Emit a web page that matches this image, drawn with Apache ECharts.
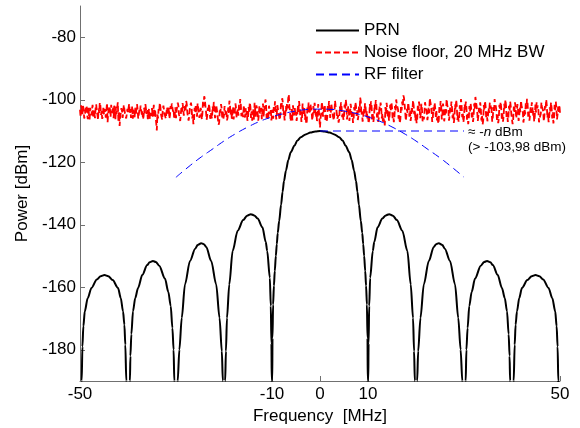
<!DOCTYPE html>
<html><head><meta charset="utf-8">
<script src="https://cdn.jsdelivr.net/npm/echarts@6/dist/echarts.min.js"></script>
<style>html,body{margin:0;padding:0;background:#fff}#c{width:580px;height:428px}</style>
</head><body><div id="c"></div>
<script>
// ---- PRN spectrum (MHz, dBm); nulls go below the axis ----
const prnFreq = [
 -50,-49.65,-49.5,-49.3,-49,-48.4,-47.6,-46.5,-45.7,-44.9,-44.1,-43.2,-42.08,-41.5,-41.04,-40.75,-40.56,-40.35,
 -40,-39.6,-39.5,-39.3,-38.96,-38.5,-37.9,-37,-36,-35.5,-34.8,-34.2,-33.5,-32.3,-31.6,-31.1,-30.75,-30.5,-30.35,
 -30,-29.65,-29.3,-28.8,-28.13,-27.08,-26,-25.5,-24.75,-24.2,-23.7,-22.67,-21.63,-20.93,-20.45,-20.24,
 -20,-19.76,-19.6,-19.38,-18.9,-18.2,-17.15,-16,-15.2,-14.4,-13.7,-13,-12,-11.3,-11,-10.45,-10.25,-10.12,-10.05,
 -10,-9.95,-9.9,-9.77,-9.6,-9.42,-9.2,-9,-8.8,-8.5,-8.1,-7.8,-7.5,-7.1,-6.6,-6.1,-5.3,-4.7,-4,-3,-2,-1,
 0,
 1,2,3,4,4.7,5.3,6.1,6.6,7.1,7.5,7.8,8.1,8.5,8.8,9,9.2,9.42,9.6,9.77,9.9,9.95,10,
 10.05,10.12,10.25,10.45,11,11.3,12,13,13.7,14.4,15.2,16,17.15,18.2,18.9,19.38,19.6,19.76,20,
 20.24,20.45,20.93,21.63,22.67,23.7,24.2,24.75,25.5,26,27.08,28.13,28.8,29.3,29.65,30,
 30.35,30.5,30.75,31.1,31.6,32.3,33.5,34.2,34.8,35.5,36,37,37.9,38.5,38.96,39.3,39.5,39.6,40,
 40.35,40.56,40.75,41.04,41.5,42.08,43.2,44.1,44.9,45.7,46.5,47.6,48.4,49,49.3,49.5,49.65,50
];
const prnPower = [
 -260,-190,-179,-172.5,-167.7,-163.5,-160.2,-157.5,-156.45,-156.1,-156.45,-157.7,-160.2,-163.5,-167.7,-172,-178.4,-190,
 -260,-190,-182,-175,-167.7,-163.5,-160.2,-156,-152.9,-152,-151.6,-151.9,-153.1,-157.2,-161.5,-166,-173,-180,-190,
 -260,-190,-180,-169.8,-159.1,-151.6,-147.65,-146.5,-145.9,-146.2,-147.1,-151.6,-159.1,-169.8,-180.5,-190,
 -260,-190,-180.5,-169.8,-159.1,-148.4,-141.9,-138.5,-137.1,-136.6,-137,-138,-140.8,-145.5,-148.4,-157,-166,-178,-190,
 -260,-190,-176.3,-165.5,-159.5,-154.8,-150,-146.2,-142.6,-138.7,-133.5,-129.5,-126,-122.7,-119.3,-116.8,-114.6,-113,-112,-111.1,-110.5,-110.15,
 -110,
 -110.15,-110.5,-111.1,-112,-113,-114.6,-116.8,-119.3,-122.7,-126,-129.5,-133.5,-138.7,-142.6,-146.2,-150,-154.8,-159.5,-165.5,-176.3,-190,-260,
 -190,-178,-166,-157,-148.4,-145.5,-140.8,-138,-137,-136.6,-137.1,-138.5,-141.9,-148.4,-159.1,-169.8,-180.5,-190,-260,
 -190,-180.5,-169.8,-159.1,-151.6,-147.1,-146.2,-145.9,-146.5,-147.65,-151.6,-159.1,-169.8,-180,-190,-260,
 -190,-180,-173,-166,-161.5,-157.2,-153.1,-151.9,-151.6,-152,-152.9,-156,-160.2,-163.5,-167.7,-175,-182,-190,-260,
 -190,-178.4,-172,-167.7,-163.5,-160.2,-157.7,-156.45,-156.1,-156.45,-157.5,-160.2,-163.5,-167.7,-172.5,-179,-190,-260
];

// ---- Noise floor, sampled every 0.125 MHz from -50 MHz ----
const noiseStartFreq = -50;
const noiseStepFreq = 0.125;
const noisePower = [
 -103.2,-105.6,-101.8,-103.1,-104.6,-102.0,-102.9,-106.0,-105.1,-103.4,-103.7,-101.9,-104.9,-106.2,-102.4,-104.8,-106.3,-102.6,-104.1,-105.0,-103.0,-101.6,-105.8,-103.5,-104.4,-105.9,-102.7,-101.5,-103.9,-104.7,-106.5,-102.8,-104.2,-100.9,-101.9,-104.9,-103.6,-106.1,-105.3,-102.2,
 -104.8,-103.0,-102.5,-105.7,-103.4,-101.1,-107.2,-104.3,-104.0,-102.1,-103.1,-105.5,-101.6,-104.2,-104.7,-102.3,-105.9,-101.9,-103.3,-106.2,-102.2,-104.6,-104.5,-100.8,-106.8,-104.0,-108.4,-105.6,-105.0,-102.7,-103.6,-105.8,-104.3,-101.7,-102.0,-104.4,-103.8,-106.0,-105.4,-102.9,
 -104.1,-102.5,-101.3,-104.6,-103.0,-105.8,-104.9,-101.9,-106.1,-103.2,-103.5,-105.6,-102.6,-104.8,-104.4,-101.4,-103.1,-106.0,-105.6,-103.3,-104.0,-101.9,-102.1,-104.8,-103.7,-106.3,-105.2,-102.6,-104.6,-101.4,-101.8,-104.5,-103.3,-106.2,-104.8,-102.9,-106.4,-103.7,-103.9,-105.1,
 -102.7,-105.4,-104.3,-101.6,-105.7,-103.0,-103.2,-107.4,-109.8,-104.6,-106.0,-103.0,-103.8,-101.0,-102.3,-104.7,-104.5,-106.4,-103.0,-101.9,-101.7,-104.6,-104.2,-106.0,-105.5,-102.4,-103.6,-104.9,-102.5,-106.1,-104.9,-102.0,-103.4,-101.2,-100.9,-103.8,-103.1,-106.2,-104.7,-102.4,
 -105.9,-103.4,-103.5,-100.9,-102.0,-104.7,-104.1,-106.8,-106.2,-102.5,-103.8,-101.1,-102.9,-105.1,-104.6,-102.0,-103.3,-100.4,-101.5,-104.3,-104.0,-106.7,-105.3,-102.8,-103.1,-100.9,-102.4,-106.0,-104.8,-107.8,-106.7,-102.6,-104.2,-101.5,-103.0,-105.4,-101.2,-102.7,-103.9,-105.8,
 -105.0,-102.6,-103.4,-106.3,-104.5,-100.5,-102.1,-98.9,-99.6,-102.0,-103.7,-106.4,-105.2,-102.6,-104.0,-101.3,-102.8,-106.1,-104.3,-105.2,-106.0,-102.1,-103.6,-100.7,-102.2,-105.9,-104.7,-101.7,-103.0,-104.8,-105.4,-108.0,-107.3,-102.9,-104.1,-101.4,-102.6,-105.7,-103.8,-106.0,
 -104.9,-102.0,-102.3,-104.8,-103.5,-106.6,-105.7,-102.5,-104.2,-100.3,-101.9,-104.8,-103.1,-106.1,-104.6,-102.3,-106.3,-104.7,-103.9,-101.2,-102.5,-105.8,-104.0,-103.0,-105.1,-101.6,-103.3,-99.8,-101.4,-105.3,-103.8,-104.2,-105.5,-101.7,-104.3,-105.7,-102.7,-104.9,-103.6,-106.7,
 -105.8,-102.3,-104.0,-100.9,-102.2,-105.8,-103.7,-106.7,-104.9,-103.1,-106.4,-101.0,-103.2,-105.4,-101.8,-102.7,-103.9,-106.7,-105.0,-101.9,-104.4,-104.8,-102.6,-106.2,-103.5,-101.2,-105.6,-102.1,-103.0,-99.9,-101.1,-105.8,-104.2,-106.4,-105.3,-101.9,-103.4,-104.6,-102.9,-106.6,
 -104.5,-103.2,-106.1,-101.9,-103.6,-100.5,-102.0,-106.3,-104.3,-101.7,-103.1,-104.6,-105.2,-106.5,-104.7,-101.0,-102.4,-99.5,-100.8,-104.9,-103.7,-106.6,-105.4,-102.1,-104.0,-101.1,-102.8,-99.6,-98.3,-102.4,-103.5,-106.9,-105.0,-103.0,-106.6,-101.8,-104.1,-105.0,-102.7,-104.9,
 -103.9,-106.8,-105.3,-101.9,-104.2,-100.4,-102.1,-105.0,-103.4,-107.1,-105.7,-101.2,-103.8,-104.9,-102.5,-106.4,-104.6,-107.8,-106.9,-102.1,-104.0,-100.9,-102.9,-104.5,-101.3,-102.8,-103.6,-106.6,-105.1,-102.0,-104.3,-101.0,-102.6,-105.6,-103.9,-106.8,-105.5,-101.4,-103.2,-105.9,
 -108.9,-105.8,-104.4,-100.7,-102.3,-105.4,-103.7,-102.8,-101.6,-106.5,-104.8,-107.0,-105.9,-101.6,-103.5,-100.4,-102.2,-105.8,-104.1,-101.4,-103.0,-104.7,-105.6,-106.6,-104.5,-100.3,-101.9,-102.7,-103.3,-106.1,-104.9,-107.3,-106.2,-102.2,-103.7,-100.8,-102.4,-105.6,-104.0,-106.4,
 -105.3,-101.5,-103.1,-100.0,-101.7,-106.3,-104.5,-102.1,-103.6,-106.8,-105.0,-101.3,-102.8,-105.9,-104.2,-107.4,-106.5,-102.3,-103.9,-100.8,-102.0,-105.2,-103.4,-106.5,-105.2,-102.1,-104.0,-99.3,-100.6,-104.9,-103.8,-107.0,-105.7,-102.8,-104.4,-101.1,-102.5,-105.3,-103.6,-106.0,
 -104.9,-107.6,-106.3,-101.4,-103.2,-100.5,-102.1,-106.3,-104.6,-107.1,-105.4,-101.5,-103.0,-100.1,-101.8,-105.7,-104.0,-107.1,-105.8,-102.0,-103.5,-100.9,-102.7,-106.0,-104.3,-107.5,-106.0,-106.6,-108.2,-102.3,-104.5,-101.0,-102.9,-105.8,-103.7,-106.7,-105.1,-101.6,-103.3,-100.8,
 -102.4,-106.0,-104.1,-107.2,-105.6,-102.0,-103.8,-99.9,-101.5,-101.6,-103.0,-106.1,-104.7,-107.5,-106.1,-102.0,-103.4,-100.6,-102.2,-98.6,-99.4,-101.5,-103.9,-106.7,-105.0,-102.9,-104.2,-100.9,-102.6,-105.4,-103.5,-106.8,-105.3,-102.2,-104.0,-100.2,-101.7,-104.6,-103.2,-106.7,
 -104.8,-107.5,-106.2,-101.9,-103.6,-100.6,-102.3,-105.9,-104.4,-101.3,-103.1,-106.9,-105.5,-106.3,-104.7,-100.8,-102.0,-102.2,-103.8,-106.5,-105.1,-102.6,-104.3,-99.5,-100.9,-101.8,-103.4,-107.1,-105.9,-102.4,-104.1,-100.9,-102.7,-105.5,-103.6,-106.6,-104.9,-107.7,-106.4,-102.0,
 -103.7,-100.4,-102.2,-106.3,-104.6,-101.2,-103.0,-106.9,-105.2,-103.0,-104.4,-99.8,-101.6,-101.9,-103.5,-106.7,-105.0,-102.2,-103.9,-100.6,-102.5,-105.9,-104.2,-107.4,-106.0,-101.5,-103.3,-100.0,-102.1,-106.5,-104.7,-107.0,-105.4,-101.8,-103.6,-99.8,-101.9,-105.6,-104.1,-107.2,
 -105.6,-101.4,-103.2,-100.6,-102.4,-106.4,-104.5,-107.8,-106.3,-102.0,-103.8,-101.1,-102.9,-105.7,-104.0,-107.1,-105.3,-101.2,-103.1,-99.1,-100.7,-102.0,-103.7,-106.8,-105.0,-102.6,-104.3,-100.8,-102.6,-106.6,-104.9,-108.0,-106.6,-101.7,-103.5,-100.4,-102.2,-105.8,-103.9,-106.9,
 -105.1,-102.6,-104.2,-100.9,-102.8,-101.6,-103.4,-107.0,-105.7,-102.3,-104.0,-99.8,-101.4,-102.1,-103.6,-106.5,-104.8,-107.5,-106.0,-101.6,-103.3,-100.7,-102.5,-106.1,-104.4,-107.0,-105.2,-101.3,-103.0,-100.0,-101.8,-105.9,-104.1,-107.1,-105.5,-101.9,-103.7,-100.6,-102.3,-104.8,
 -104.6,-107.8,-106.2,-102.2,-103.9,-100.8,-102.6,-105.9,-104.3,-101.4,-103.1,-106.8,-105.4,-102.3,-104.0,-100.3,-102.1,-101.7,-103.5,-107.3,-105.8,-102.9,-104.7,-100.9,-102.9,-99.7,-101.3,-105.4,-103.8,-106.7,-105.0,-102.4,-104.2,-100.8,-102.4,-105.2,-103.6,-107.0,-105.3,-101.5,
 -104.1,-100.8,-102.7,-101.9,-103.4,-107.2,-105.9,-106.1,-104.5,-100.9,-102.2,-101.8,-103.7,-106.9,-105.1,-102.0,-103.0,-99.9,-101.9,-105.8,-104.3,-107.2,-105.6,-102.4,-103.8,-100.9,-102.5,-106.0,-104.0,-107.6,-106.1,-101.6,-103.3,-100.6,-102.8,-106.3,-104.6,-102.2,-103.9,-101.7,
 -104.2
];

// ---- RF filter response ----
const filterFreq = [-30,-27.5,-25,-22.5,-20,-17.5,-15,-12.5,-10,-7.5,-5,-2.5,0,2.5,5,7.5,10,12.5,15,17.5,20,22.5,25,27.5,30];
const filterPower = [-124.8,-121.6,-118.6,-115.9,-113.2,-110.8,-108.7,-106.9,-105.5,-104.4,-103.6,-103.1,-103.0,-103.1,-103.6,-104.4,-105.5,-106.9,-108.7,-110.8,-113.2,-115.9,-118.6,-121.6,-124.8];

// ---- PRN peak level marker ----
const levelFreq = [0, 30];
const levelPower = [-110, -110];

// ---- Axis ticks ----
const xTicks = [-50, -10, 0, 10, 50];
const yTicks = [-180, -160, -140, -120, -100, -80];

const seriesNames = ['PRN', 'Noise floor, 20 MHz BW', 'RF filter'];
const FONT = '"Liberation Sans", Arial, sans-serif';
const AX = '#707070';

const chart = echarts.init(document.getElementById('c'), null, {renderer: 'canvas'});
const pair = (xs, ys) => xs.map((x, i) => [x, ys[i]]);

chart.setOption({
  animation: false,
  backgroundColor: '#fff',
  grid: {left: 80, right: 20, top: 6, bottom: 47, containLabel: false, outerBoundsMode: 'none'},
  legend: {
    orient: 'vertical', left: 310, top: 17,
    itemWidth: 43, itemHeight: 14, itemGap: 5,
    itemStyle: {opacity: 0},
    textStyle: {fontFamily: FONT, fontSize: 17, color: '#000'},
    data: seriesNames
  },
  xAxis: {
    type: 'value', min: -50, max: 50,
    axisLine: {onZero: false, lineStyle: {color: AX, width: 1}},
    axisTick: {inside: true, length: 5, customValues: xTicks, lineStyle: {color: AX}},
    axisLabel: {customValues: xTicks, fontFamily: FONT, fontSize: 17, color: '#000', margin: 5},
    splitLine: {show: false},
    name: 'Frequency  [MHz]', nameLocation: 'middle', nameGap: 27,
    nameTextStyle: {fontFamily: FONT, fontSize: 17, color: '#000'}
  },
  yAxis: {
    type: 'value', min: -190, max: -70,
    axisLine: {show: true, onZero: false, lineStyle: {color: AX, width: 1}},
    axisTick: {show: true, inside: true, length: 5, customValues: yTicks, lineStyle: {color: AX}},
    axisLabel: {customValues: yTicks, fontFamily: FONT, fontSize: 17, color: '#000', margin: 4},
    splitLine: {show: false},
    name: 'Power [dBm]', nameLocation: 'middle', nameGap: 48, nameRotate: 90,
    nameTextStyle: {fontFamily: FONT, fontSize: 17, color: '#000'}
  },
  series: [
    {
      name: seriesNames[0], type: 'line', data: pair(prnFreq, prnPower),
      symbol: 'none', smooth: 0.3, smoothMonotone: 'x', clip: true,
      itemStyle: {color: '#000'}, lineStyle: {color: '#000', width: 2}
    },
    {
      name: seriesNames[1], type: 'line',
      data: noisePower.map((v, i) => [noiseStartFreq + i * noiseStepFreq, v]),
      symbol: 'none', clip: true,
      itemStyle: {color: '#ff0000'}, lineStyle: {color: '#ff0000', width: 1.8, type: [6, 3]}
    },
    {
      name: seriesNames[2], type: 'line', data: pair(filterFreq, filterPower),
      symbol: 'none', smooth: true, clip: true,
      itemStyle: {color: '#0000ff'}, lineStyle: {color: '#0000ff', width: 1, type: [8, 5]}
    },
    {
      name: 'level', type: 'line', data: pair(levelFreq, levelPower),
      symbol: 'none', clip: false,
      itemStyle: {color: '#0000ff'}, lineStyle: {color: '#0000ff', width: 1, type: [8, 5]},
      markPoint: {
        symbol: 'circle', symbolSize: 0, silent: true,
        data: [{coord: [levelFreq[1], levelPower[1]]}],
        label: {
          show: true, position: 'right', distance: 4, offset: [0, 9],
          formatter: '{a|≈ -}{i|n}{a| dBm}\n{a|(> -103,98 dBm)}',
          rich: {
            a: {fontFamily: FONT, fontSize: 13.5, color: '#000', lineHeight: 15},
            i: {fontFamily: FONT, fontSize: 13.5, color: '#000', fontStyle: 'italic', lineHeight: 15}
          }
        }
      }
    }
  ]
});
</script>
</body></html>
